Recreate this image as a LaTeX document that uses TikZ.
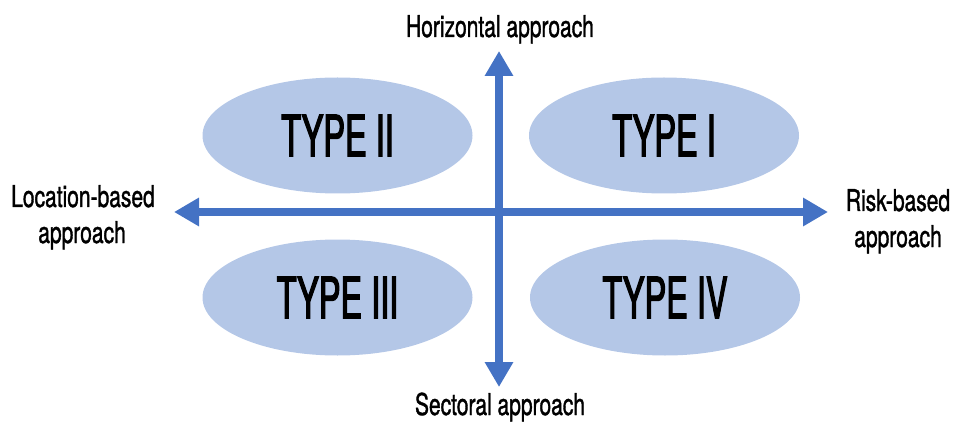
\documentclass[tikz,border=0pt]{standalone}
\usepackage{fontspec}
\setmainfont[FakeStretch=0.70,FakeBold=1.2]{TeX Gyre Heros}
\newfontfamily\typefont[FakeStretch=0.57,FakeBold=2]{TeX Gyre Heros}
\usetikzlibrary{arrows.meta,shapes.geometric}
\definecolor{ellfill}{HTML}{B4C7E7}
\definecolor{arrblue}{HTML}{4472C4}
\tikzset{
  quad/.style={ellipse, fill=ellfill, minimum width=270pt, minimum height=116pt, inner sep=0pt, font=\typefont\fontsize{57}{64}\selectfont},
  axis/.style={draw=arrblue, line width=8pt, {Triangle[width=27pt,length=25pt]}-{Triangle[width=27pt,length=25pt]}},
  lbl/.style={font=\fontsize{30}{36}\selectfont, anchor=base, inner sep=0pt}
}
\begin{document}
\begin{tikzpicture}[x=1pt,y=-1pt]
\useasboundingbox (0,0) rectangle (955,422);
\node[quad] (t2) at (337.5,135.5) {TYPE II};
\node[quad] (t1) at (664,135.5) {TYPE I};
\node[quad] (t3) at (337.5,297.5) {TYPE III};
\node[quad] (t4) at (665,297.5) {TYPE IV};
\coordinate (top) at (499,51);
\coordinate (bot) at (499,387);
\coordinate (left) at (174,212);
\coordinate (right) at (828,212);
\draw[axis] (bot) -- (top);
\draw[axis] (left) -- (right);
\node[lbl] (h) at (500,37) {Horizontal approach};
\node[lbl] (s) at (500,415) {Sectoral approach};
\node[lbl] (l1) at (83,207) {Location-based};
\node[lbl] (l2) at (82,243) {approach};
\node[lbl] (r1) at (898,211) {Risk-based};
\node[lbl] (r2) at (898,247) {approach};
\end{tikzpicture}
\end{document}
